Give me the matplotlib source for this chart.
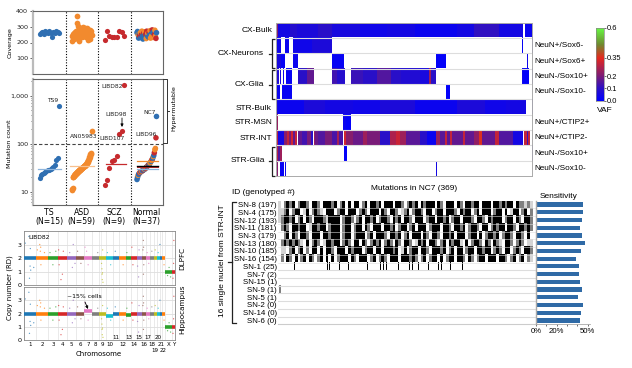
import numpy as np
import matplotlib
matplotlib.use('Agg')
import matplotlib.pyplot as plt
from matplotlib.colors import LinearSegmentedColormap, ListedColormap

W, H = 632, 368

BLUE = '#2f6fb2'
ORANGE = '#f28a2e'
RED = '#c62a2d'

# ---- panel A/B data: samples are in rank order inside every group
groups = ['TS\n(N=15)', 'ASD\n(N=59)', 'SCZ\n(N=9)', 'Normal\n(N=37)']
ts_mut = [19, 22, 24, 25, 26, 27, 28, 29, 30, 31, 33, 36, 46, 50, 610]
asd_mut = [11, 11.3, 12, 20, 20.5, 21, 21.5, 22, 22.3, 23, 23.5, 24, 24.3, 24.8, 25, 25.5, 26, 26.3,
           26.8, 27, 27.5, 28, 28.3, 28.8, 29, 29.5, 30, 30.3, 30.8, 31, 31.5, 32, 32.5, 33, 33.3,
           33.8, 34, 34.5, 35, 35.5, 36, 36.8, 37.5, 38, 39, 40, 41, 42, 43, 45, 47, 49, 52, 54, 57,
           60, 62, 65, 180]
scz_mut = [14, 18, 32, 44, 46, 56, 160, 186, 1700]
normal_mut = [18, 20, 22, 23, 24, 25, 25.5, 26, 26.5, 27, 27.5, 28, 28.5, 29, 29.5, 30, 31, 32, 33,
              34, 35, 36, 37, 38, 40, 41, 43, 45, 47, 50, 54, 57, 65, 75, 80, 133, 370]
ts_cov = [252, 262, 268, 255, 272, 265, 258, 272, 262, 238, 268, 258, 272, 265, 258]
asd_cov = [212, 240, 248, 232, 255, 225, 262, 245, 268, 236, 250, 228, 258, 272, 242, 368, 322, 305,
           282, 262, 210, 245, 270, 288, 256, 238, 276, 250, 292, 262, 235, 280, 255, 270, 296, 242,
           262, 284, 250, 274, 292, 258, 238, 280, 266, 248, 290, 272, 256, 218, 282, 265, 244, 278,
           258, 222, 270, 250, 245]
scz_cov = [215, 272, 240, 236, 232, 236, 272, 268, 244]
normal_cov = [262, 270, 248, 228, 255, 242, 262, 232, 250, 272, 240, 222, 258, 248, 268, 235, 252, 225,
              272, 245, 258, 235, 265, 248, 275, 228, 255, 242, 280, 262, 232, 268, 250, 278, 240, 226, 262]
normal_col = list('bbobbrobrobbrbobrorbobrbooborbobrooobrb'[:35]) + ['r', 'b']
mean_ts = 30
mean_asd = 34
mean_scz = 38
mean_normal = {'ASD': 43, 'all': 35, 'SCZ': 33, 'TS': 29.5}
mut_labels = [('TS9', 53, 100), ('AN05983', 83.5, 137), ('LIBD82', 111.7, 87), ('LIBD98', 115.7, 114),
              ('LIBD107', 112, 139), ('NC7', 149.7, 112), ('LIBD96', 145.7, 134)]

# ---- panel C data
chrom_names = [str(i) for i in range(1, 23)] + ['X', 'Y']
chrom_len = [249, 243, 198, 191, 181, 171, 159, 146, 141, 135, 135, 133, 115, 107, 102, 90, 81, 78, 59, 63,
             48, 51, 155, 59]
cn_top = [2] * 22 + [1, 1]
cn_bottom = [2, 2, 2, 2, 2, 2, 2.2, 2, 2, 1.8, 2, 2, 1.85, 1.95, 2, 2, 2, 2, 2, 2, 2, 2, 1, 1]
tab_cols = ['#1f77b4', '#ff7f0e', '#2ca02c', '#d62728', '#9467bd', '#8c564b', '#e377c2', '#7f7f7f',
            '#bcbd22', '#17becf']
# scattered bins: chromosome index, fraction along it, copy number
speck_chr = [0, 0, 0, 0, 0, 0, 1, 1, 1, 1, 1, 2, 2, 2, 3, 3, 3, 3, 4, 4, 4, 5, 5, 6, 6, 7, 8, 8, 8, 8, 8, 8,
             9, 9, 10, 11, 12, 13, 13, 14, 14, 15, 15, 15, 15, 16, 16, 17, 18, 19, 20, 21, 22, 22, 23, 23,
             0, 1, 3, 4, 6, 8, 14, 15, 22, 23]
speck_pos = [.1, .4, .45, .5, .52, .8, .1, .3, .35, .4, .7, .2, .5, .8, .1, .15, .5, .6, .3, .7, .9, .2, .6,
             .3, .5, .8, .35, .4, .42, .45, .5, .55, .2, .7, .4, .6, .2, .1, .3, .2, .5, .3, .4, .45, .5,
             .3, .7, .5, .5, .5, .1, .8, .4, .6, .3, .6, .55, .38, .35, .6, .1, .48, .4, .42, .8, .5]
speck_cn = [3.1, 3.6, .5, 1.4, 2.7, 1.3, 2.6, 3.0, 2.5, 1.5, 2.4, 2.4, 1.5, 2.5, 2.6, 1.5, .8, 2.5, 2.4, 3.0, 1.6,
            2.5, 1.6, 2.5, 1.5, 2.4, 1.6, 1.2, .8, .4, 2.6, .2, 2.4, 1.5, 2.5, 1.5, 2.4, 2.8, 1.5, 1.4, 2.6,
            2.6, 3.3, 2.8, 1.5, 2.4, 1.6, 2.5, 2.6, 2.4, 3.0, 1.5, .7, 1.3, .5, 3.3, 1.1, 2.8, .4, 1.3, 2.8, .9, .6, .8,
            .6, 1.6]

# ---- panel D heatmap data: (first column, last column, VAF) for the 369 mutations
n_mut = 369
cx_bulk = [(0, 3, .22), (3, 20, .05), (20, 30, .09), (30, 60, .07), (60, 80, .1), (80, 120, .06), (120, 160, .04),
           (160, 200, .05), (200, 260, .03), (260, 285, .05), (285, 320, .11), (320, 354, .05), (358, 369, .03)]
cx_n1 = [(0, 7, .04), (13, 19, .03), (24, 52, .04), (52, 80, .07), (353, 355, .02), (367, 369, .03)]
cx_n2 = [(0, 7, .06), (7, 13, .02), (24, 32, .03), (80, 98, .02), (230, 244, .01), (361, 362, .04)]
cx_g1 = [(0, 4, .08), (6, 7, .06), (10, 11, .04), (14, 23, .02), (31, 44, .1), (44, 54, .17), (80, 88, .13), (88, 99, .09),
         (108, 125, .12), (125, 145, .1), (145, 165, .15), (165, 180, .1), (180, 207, .08), (207, 220, .06), (220, 222, .25),
         (222, 230, .1), (353, 355, .04), (355, 363, .01), (367, 369, .03)]
cx_g2 = [(0, 6, .03), (9, 14, .02), (15, 23, .02), (244, 250, .01)]
str_bulk = [(0, 3, .06), (3, 40, .03), (40, 70, .07), (70, 110, .05), (110, 150, .04), (150, 200, .07), (200, 260, .03),
            (260, 300, .07), (300, 330, .04), (330, 359, .05), (368, 369, .03)]
str_msn = [(0, 3, .24), (14, 15, .04), (77, 78, .03), (96, 100, .03), (100, 108, .01)]
str_int = [(0, 3, .28), (3, 12, .05), (12, 16, .22), (16, 19, .3), (19, 21, .2), (21, 24, .32), (24, 27, .17), (27, 30, .3),
           (31, 37, .17), (37, 44, .13), (44, 50, .2), (50, 53, .1), (54, 56, .25), (56, 60, .18), (60, 70, .15),
           (70, 80, .2), (80, 88, .14), (88, 90, .26), (90, 96, .14), (98, 100, .32), (100, 110, .22), (110, 125, .18),
           (125, 130, .25), (130, 150, .2), (150, 164, .1), (164, 172, .27), (172, 178, .31), (178, 186, .25), (186, 207, .16),
           (207, 217, .1), (217, 230, .03), (230, 236, .24), (236, 242, .16), (242, 245, .3), (245, 250, .16), (250, 253, .3),
           (253, 268, .17), (268, 272, .3), (272, 285, .17), (285, 292, .23), (292, 296, .36), (296, 315, .17),
           (315, 320, .3), (320, 340, .15), (340, 354, .05), (356, 360, .3), (360, 362, .12), (362, 364, .3)]
str_g1 = [(0, 3, .28), (3, 6, .15), (6, 9, .25), (98, 102, .01), (368, 369, .03)]
str_g2 = [(0, 3, .22), (6, 11, .02), (13, 14, .04), (110, 111, .01), (230, 231, .05)]
heat_rows = [cx_bulk, cx_n1, cx_n2, cx_g1, cx_g2, str_bulk, str_msn, str_int, str_g1, str_g2]
cell_labels = ['NeuN+/Sox6-', 'NeuN+/Sox6+', 'NeuN-/Sox10+', 'NeuN-/Sox10-',
               'NeuN+/CTIP2+', 'NeuN+/CTIP2-', 'NeuN-/Sox10+', 'NeuN-/Sox10-']
cell_rows = [1, 2, 3, 4, 6, 7, 8, 9]

# ---- panel E data, # genotyped, x reads conflict, - low depth, . missing. one character is 4 mutations
sn_ids = ['SN-8 (197)', 'SN-4 (175)', 'SN-12 (193)', 'SN-11 (181)', 'SN-3 (179)', 'SN-13 (180)', 'SN-10 (185)',
          'SN-16 (154)', 'SN-1 (25)', 'SN-7 (2)', 'SN-15 (1)', 'SN-9 (1)', 'SN-5 (1)', 'SN-2 (0)', 'SN-14 (0)', 'SN-6 (0)']
sn_dense = [
    '-.x#x#.x##x.##x.###x#.x#.#.##.x#.##x#.###.##x.x#x#.#x###.#x.###.#x.##x##.###.##x#x##.#xx-x-',
    '--x#.x##.-#.x#x-.###.x##.###.x#x.###.#x.##x.-x#.x##x.##.x##.###x.#x##.x#.###.x##.#.-##.x#.x',
    '-x##x#.x#.#x.###x-####.x##x.x#.##x#.x##x.#x#.##x.###.x##.##x#.x##.###x.##x.#x###.x##.#x.##x',
    '.x#x.##x##.-##x##.x###.x##.x##.#x.###.##x#.x##.x#.###.x###.##x.##x#.x##x.##.x#x##.##x.##x#x',
    '..x#.#x.##x.###.##x###.x##.x###.x#.###x.##x#.x#.###.#x.##x.##x#.###.x##.#.x##x#.x##x.##x.#.',
    '.x#x#x#x-.#.x#x.-##x##.x#x.##.#x.x#x#.x#x.#x.##x.-#x#.##x.x#.#x##-.#.x##x.#x.#x-.##x.x#x.--',
    '.--.x#.x#.x.##.#.##x.###.#x###.x##.##.###x#.-#.x##.##x.###x#.x#.##.x##.##x##.x#x.##.x#x.##x',
    '.x.#x.#.x#.#x.x#.#.#.x###.#x.###.x#.x#x.###.###x#x.x#.x##.#.x##.##x.#x.x##.###.##x.x#.x#.x-',
]
sn_1 = [23, 31, 70, 73, 87, 100, 108, 118, 128, 146, 150, 155, 172, 188, 192, 200, 215, 229, 233, 246, 263, 270]
sn_7 = [1]
sn_9 = [2, 3, 4]
sn_5 = [367]
sensitivity = [45.3, 45.3, 44.7, 42.7, 44.7, 47.7, 44, 39, 41.7, 41.7, 42.7, 44.7, 40.7, 45.7, 43.3, 42.7]


def px_axes(x0, y0, x1, y1):
    return fig.add_axes([x0 / W, 1 - y1 / H, (x1 - x0) / W, (y1 - y0) / H])


def rank_x(group, vals):
    return group + 0.2 + 0.6 * np.arange(len(vals)) / (len(vals) - 1)


def style_spines(ax):
    for s in ['top', 'right', 'bottom']:
        ax.spines[s].set_color('#666666')
        ax.spines[s].set_linewidth(0.8)
    ax.spines['left'].set_color('#bbbbbb')
    ax.spines['left'].set_linewidth(1.6)


def bracket(xv, xt, y0, y1, ymid=None, xm=None):
    ov.plot([xt, xv, xv, xt], [y0, y0, y1, y1], color='#222222', lw=0.9, solid_capstyle='butt')
    if ymid is not None:
        ov.plot([xm, xv], [ymid, ymid], color='#222222', lw=0.9)


fig = plt.figure(figsize=(W / 100, H / 100), dpi=100)
ov = fig.add_axes([0, 0, 1, 1], zorder=5)
ov.set_xlim(0, W)
ov.set_ylim(H, 0)
ov.axis('off')

LEFT = 'DejaVu Sans'
RIGHT = 'Liberation Sans'

# coverage
ax = px_axes(33, 11, 163, 74)
ax.scatter(rank_x(0, ts_cov), ts_cov, s=14, color=BLUE, lw=0)
ax.scatter(rank_x(1, asd_cov), asd_cov, s=17, color=ORANGE, lw=0)
ax.scatter(rank_x(2, scz_cov), scz_cov, s=14, color=RED, lw=0)
col_map = {'b': BLUE, 'o': ORANGE, 'r': RED}
ax.scatter(rank_x(3, normal_cov), normal_cov, s=16, color=[col_map[c] for c in normal_col], lw=0)
ax.set_xlim(0, 4)
ax.set_ylim(0, 400)
ax.set_yticks([100, 200, 300, 400])
ax.set_xticks([])
ax.tick_params(axis='y', labelsize=4.6, length=2, width=0.5, pad=1.5, colors='#222222')
for g in [1, 2, 3]:
    ax.axvline(g, color='black', ls=(0, (1, 1.5)), lw=0.8)
style_spines(ax)

# mutation count
ax = px_axes(33, 79, 163, 205)
ax.set_yscale('log')
ax.scatter(rank_x(0, ts_mut), ts_mut, s=14, color=BLUE, lw=0, zorder=3)
ax.scatter(rank_x(1, asd_mut), asd_mut, s=17, color=ORANGE, lw=0, zorder=3)
ax.scatter(rank_x(2, scz_mut), scz_mut, s=14, color=RED, lw=0, zorder=3)
ax.scatter(rank_x(3, normal_mut), normal_mut, s=16, color=[col_map[c] for c in normal_col], lw=0, zorder=3)
ax.plot([0.15, 0.85], [mean_ts, mean_ts], color='#8db4dc', lw=0.9, zorder=4)
ax.plot([1.15, 1.87], [mean_asd, mean_asd], color='#f8c08e', lw=0.9, zorder=4)
ax.plot([2.25, 2.85], [mean_scz, mean_scz], color=RED, lw=0.9, zorder=4)
ax.plot([3.2, 3.85], [mean_normal['ASD']] * 2, color=ORANGE, lw=0.9, zorder=4)
ax.plot([3.2, 3.85], [mean_normal['SCZ']] * 2, color=RED, lw=0.7, zorder=4)
ax.plot([3.2, 3.85], [mean_normal['TS']] * 2, color='#8db4dc', lw=0.9, zorder=4)
ax.plot([3.2, 3.85], [mean_normal['all']] * 2, color='black', lw=1.0, zorder=5)
ax.axhline(100, color='#444444', ls=(0, (3, 2)), lw=0.8)
ax.set_xlim(0, 4)
ax.set_ylim(5.3, 2230)
ax.set_yticks([10, 100, 1000])
ax.set_yticklabels(['10', '100', '1,000'])
ax.set_xticks([0.5, 1.5, 2.5, 3.5])
ax.set_xticklabels(groups, linespacing=1.0)
ax.tick_params(axis='x', labelsize=5.6, length=0, pad=2.5)
ax.tick_params(axis='y', which='major', labelsize=4.6, length=2, width=0.5, pad=1.5, colors='#222222')
ax.tick_params(axis='y', which='minor', length=1.2, width=0.4, labelleft=False)
for g in [1, 2, 3]:
    ax.axvline(g, color='black', ls=(0, (1, 1.5)), lw=0.8)
style_spines(ax)

ov.text(10, 43, 'Coverage', rotation=90, ha='center', va='center', fontsize=4.6, family=LEFT)
ov.text(10, 144, 'Mutation count', rotation=90, ha='center', va='center', fontsize=4.6, family=LEFT)
for txt, x, y in mut_labels:
    ov.text(x, y, txt, ha='center', va='center', fontsize=4.3, family=LEFT, color='#222222')
ov.annotate('', xy=(122, 127), xytext=(122, 118), arrowprops=dict(arrowstyle='-|>', color='black', lw=0.6,
            mutation_scale=4, shrinkA=0, shrinkB=0))
ov.plot([163, 166.5, 166.5, 163], [79, 79, 143, 143], color='#333333', lw=0.7)
ov.plot([166.5, 169], [111, 111], color='#333333', lw=0.7)
ov.text(174, 108, 'Hypermutable', rotation=90, ha='center', va='center', fontsize=4.6, family=LEFT)

# copy number
starts = np.concatenate([[0], np.cumsum(chrom_len)[:-1]])
ends = np.cumsum(chrom_len)
total = ends[-1]
for (y0, y1, levels) in [(231, 285, cn_top), (287, 340, cn_bottom)]:
    ax = px_axes(24, y0, 175, y1)
    for i in range(len(chrom_len)):
        ax.axvline(starts[i], color='#e6e6e6', lw=0.6, zorder=0)
        ax.plot([starts[i], ends[i]], [levels[i], levels[i]], color=tab_cols[i % 10], lw=2.6,
                solid_capstyle='butt', zorder=3)
    ax.axvspan(starts[6] + 55, starts[6] + 62, color='#eeeeee', lw=0, zorder=0)
    ax.axvspan(starts[8] + 40, starts[8] + 60, color='#eeeeee', lw=0, zorder=0)
    sx = [starts[c] + p * chrom_len[c] for c, p in zip(speck_chr, speck_pos)]
    sc = [tab_cols[c % 10] for c in speck_chr]
    ax.scatter(sx, speck_cn, s=0.9, color=sc, lw=0, alpha=0.7, zorder=2)
    ax.set_xlim(0, total)
    ax.set_ylim(0, 4)
    ax.set_yticks([0, 1, 2, 3])
    ax.yaxis.grid(True, color='#dddddd', lw=0.6)
    ax.set_axisbelow(True)
    ax.set_xticks([])
    ax.tick_params(axis='y', labelsize=4.6, length=0, pad=2)
    for s in ax.spines.values():
        s.set_color('#888888')
        s.set_linewidth(0.6)
ov.text(28, 237.5, 'LIBD82', ha='left', va='center', fontsize=4.3, family=LEFT)
ov.text(84, 297, '~15% cells', ha='center', va='center', fontsize=4.4, family=LEFT, zorder=8)
ov.annotate('', xy=(88, 309), xytext=(85, 302), arrowprops=dict(arrowstyle='-|>', color='black', lw=0.6,
            mutation_scale=4, shrinkA=0, shrinkB=0))
ov.text(182.5, 258, 'DLPFC', rotation=90, ha='center', va='center', fontsize=5.2, family=LEFT)
ov.text(182.5, 309, 'Hippocampus', rotation=90, ha='center', va='center', fontsize=5.2, family=LEFT)
ov.text(10, 288, 'Copy number (RD)', rotation=90, ha='center', va='center', fontsize=5, family=LEFT)
ov.text(99, 354, 'Chromosome', ha='center', va='center', fontsize=5, family=LEFT)
for i, name in enumerate(chrom_names):
    mid = 24 + 151 * (starts[i] + ends[i]) / 2 / total
    if name in ['11', '13', '15', '17', '20']:
        yy = 337.7
    elif name in ['19', '22']:
        yy = 350.7
    else:
        yy = 344.7
    ov.text(mid, yy, name, ha='center', va='center', fontsize=4, family=LEFT)

# VAF heatmap
cmap = LinearSegmentedColormap.from_list('vaf', [(0, '#0000ff'), (0.1 / .6, '#2a10c8'), (0.2 / .6, '#7a1c78'),
                                                (0.35 / .6, '#e6281e'), (0.46 / .6, '#6f8a30'), (1, '#66ff44')])
cmap.set_bad('white')
heat = np.full((len(heat_rows), n_mut), np.nan)
for r, segs in enumerate(heat_rows):
    for a, b, v in segs:
        heat[r, a:b] = v
ax = px_axes(276, 22.7, 532.3, 176)
ax.imshow(heat, cmap=cmap, vmin=0, vmax=0.6, aspect='auto', interpolation='nearest',
          extent=[0, n_mut, len(heat_rows), 0])
for r in range(1, len(heat_rows)):
    ax.axhline(r, color='#dddddd', lw=0.8)
ax.set_xticks([])
ax.set_yticks([])
for s in ax.spines.values():
    s.set_color('#aaaaaa')
    s.set_linewidth(0.7)

for txt, x, y, ha in [('CX-Bulk', 272, 30, 'right'), ('CX-Neurons', 264, 53.7, 'right'), ('CX-Glia', 264, 84, 'right'),
                      ('STR-Bulk', 272, 108, 'right'), ('STR-MSN', 272, 123, 'right'), ('STR-INT', 272, 138, 'right'),
                      ('STR-Glia', 265, 160, 'right')]:
    ov.text(x, y, txt, ha=ha, va='center', fontsize=6, family=RIGHT)
bracket(272, 274.5, 38.7, 68, 53.7, 268.5)
bracket(272, 274.5, 70, 99, 84.5, 268.5)
bracket(272, 274.5, 146.7, 176, 161, 268.5)
for r, txt in zip(cell_rows, cell_labels):
    y = 22.7 + (r + 0.5) * 15.33
    ov.text(534.7, y, txt, ha='left', va='center', fontsize=5.9, family=RIGHT)

# colour bar
cax = px_axes(596, 27.5, 604, 100.7)
cax.imshow(np.linspace(0.6, 0, 200).reshape(-1, 1), cmap=cmap, vmin=0, vmax=0.6, aspect='auto', extent=[0, 1, 0, 0.6])
cax.set_xticks([])
cax.yaxis.tick_right()
cax.set_yticks([0, 0.1, 0.2, 0.35, 0.6])
cax.set_yticklabels(['0.0', '0.1', '0.2', '0.35', '0.6'])
cax.tick_params(axis='y', labelsize=5.4, length=1.5, width=0.4, pad=0.8)
for lab in cax.get_yticklabels():
    lab.set_family(RIGHT)
for s in cax.spines.values():
    s.set_color('#888888')
    s.set_linewidth(0.5)
ov.text(604.5, 110, 'VAF', ha='center', va='center', fontsize=6, family=RIGHT)

# single nuclei matrix
code = {'.': 0, '-': 1, 'x': 2, '#': 3}
mat = np.zeros((len(sn_ids), n_mut))
for r, s in enumerate(sn_dense):
    vals = np.repeat([code[c] for c in s], 4)
    mat[r, :min(len(vals), n_mut)] = vals[:n_mut]
mat[8, sn_1] = 3
mat[9, sn_7] = 3
mat[11, sn_9] = 2
mat[12, sn_5] = 3
bw = ListedColormap(['white', '#d4d4d4', '#808080', 'black'])
ax = px_axes(278.3, 200.7, 536, 324.3)
ax.imshow(mat, cmap=bw, vmin=0, vmax=3, aspect='auto', interpolation='nearest',
          extent=[0, n_mut, len(sn_ids), 0])
for r in range(1, len(sn_ids)):
    ax.axhline(r, color='#dddddd', lw=0.8 if r > 8 else 0.4)
ax.set_xticks([])
ax.set_yticks(np.arange(len(sn_ids)) + 0.5)
ax.set_yticklabels(sn_ids, family=RIGHT)
ax.tick_params(axis='y', labelsize=5.7, length=0, pad=1.2)
for s in ax.spines.values():
    s.set_visible(False)
ax.spines['bottom'].set_visible(True)
ax.spines['bottom'].set_color('#cccccc')

# sensitivity
ax = px_axes(536, 200.7, 590, 324.3)
ax.barh(np.arange(len(sn_ids)) + 0.5, sensitivity, height=0.55, color='#2f6aa6')
ax.set_ylim(len(sn_ids), 0)
ax.set_xlim(0, 52.3)
ax.set_yticks([])
ax.set_xticks([0, 20, 50])
ax.set_xticklabels(['0%', '20%', '50%'], family=RIGHT)
ax.set_xticks([10, 30, 40], minor=True)
ax.tick_params(axis='x', which='major', labelsize=5.6, length=1.5, width=0.4, pad=1.5)
ax.tick_params(axis='x', which='minor', length=1.5, width=0.4)
for s in ['top', 'right']:
    ax.spines[s].set_visible(False)
ax.spines['left'].set_color('#aaaaaa')
ax.spines['left'].set_linewidth(1.0)
ax.spines['bottom'].set_color('#aaaaaa')
ax.spines['bottom'].set_linewidth(0.6)

ov.text(232, 192, 'ID (genotyped #)', ha='left', va='center', fontsize=6, family=RIGHT)
ov.text(413.7, 189, 'Mutations in NC7 (369)', ha='center', va='center', fontsize=6, family=RIGHT)
ov.text(558.7, 196, 'Sensitivity', ha='center', va='center', fontsize=6, family=RIGHT)
ov.text(222, 261, '16 single nuclei from STR-INT', rotation=90, ha='center', va='center', fontsize=6, family=RIGHT)
ov.plot([235.5, 231.7, 231.7, 235.5], [201.7, 201.7, 323, 323], color='#222222', lw=0.9)
ov.plot([227.5, 231.7], [261.7, 261.7], color='#222222', lw=0.9)

fig.savefig('out.png', dpi=100)
